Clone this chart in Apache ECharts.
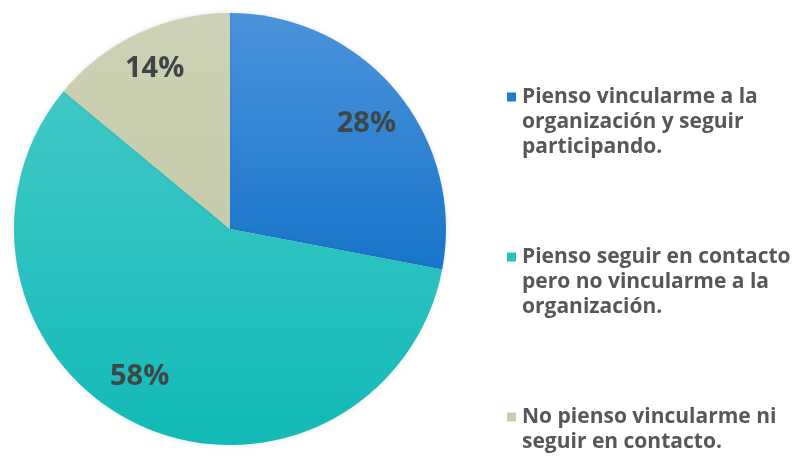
<!DOCTYPE html>
<html>
<head>
<meta charset="utf-8">
<script src="https://cdn.jsdelivr.net/npm/echarts@6/dist/echarts.min.js"></script>
<style>
  html, body { margin: 0; padding: 0; background: #ffffff; }
  #chart { width: 809px; height: 456px; }
</style>
</head>
<body>
<div id="chart"></div>
<script>
// Survey answers and their shares (%)
const categories = [
  'Pienso vincularme a la organización y seguir participando.',
  'Pienso seguir en contacto pero no vincularme a la organización.',
  'No pienso vincularme ni seguir en contacto.'
];
const legendLines = [
  ['Pienso vincularme a la', 'organización y seguir', 'participando.'],
  ['Pienso seguir en contacto', 'pero no vincularme a la', 'organización.'],
  ['No pienso vincularme ni', 'seguir en contacto.']
];
const values = [28, 58, 14];

const topColors = ['#4b93da', '#40c8c8', '#cdd2b6'];
const bottomColors = ['#1875cb', '#12bab6', '#c6cbab'];
const legendColors = ['#1f7ad0', '#26c2c0', '#c9cfae'];
// small nudges for the percentage labels
const labelOffsets = [[0, 8], [-15, -12], [0, 0]];

const LINE_H = 25;
// vertical centre of the first text line of each legend entry
const legendFirstLine = [97, 257, 417];

const chart = echarts.init(document.getElementById('chart'), null, { renderer: 'canvas' });

const pieData = categories.map((name, i) => ({
  name,
  value: values[i],
  itemStyle: {
    color: new echarts.graphic.LinearGradient(0, 0, 0, 1, [
      { offset: 0, color: topColors[i] },
      { offset: 1, color: bottomColors[i] }
    ])
  }
}));

// The legend marker is centred on the text block, so blank lines are
// prepended to keep the marker beside the first line of each entry.
const legends = categories.map((name, i) => {
  const lines = legendLines[i];
  const pad = lines.length - 1;
  const blank = new Array(pad).fill('');
  const total = pad + lines.length;
  return {
    data: [{ name, icon: 'rect', itemStyle: { color: legendColors[i] } }],
    left: 507,
    top: legendFirstLine[i] - (pad + 0.5) * LINE_H,
    padding: 0,
    orient: 'vertical',
    itemWidth: 9,
    itemHeight: 9,
    selectedMode: false,
    formatter: () => blank.concat(lines).join('\n'),
    textStyle: {
      fontFamily: 'Open Sans',
      fontWeight: 700,
      fontSize: 21,
      lineHeight: LINE_H,
      color: '#575757',
      padding: [0, 0, 0, 1]
    }
  };
});

chart.setOption({
  animation: false,
  legend: legends,
  series: [
    {
      type: 'pie',
      center: [230, 229],
      radius: [0, 216],
      startAngle: 90,
      clockwise: true,
      silent: true,
      label: { show: false },
      labelLine: { show: false },
      itemStyle: { borderWidth: 0, shadowBlur: 4, shadowColor: 'rgba(0,0,0,0.12)' },
      data: pieData
    },
    {
      // transparent ring used only to place the percentage labels
      type: 'pie',
      center: [230, 229],
      radius: [132, 216],
      startAngle: 90,
      clockwise: true,
      silent: true,
      legendHoverLink: false,
      itemStyle: { color: 'rgba(0,0,0,0)' },
      label: {
        show: true,
        position: 'inside',
        formatter: '{c}%',
        fontFamily: 'Open Sans',
        fontWeight: 700,
        fontSize: 29,
        color: '#3f4646'
      },
      labelLine: { show: false },
      data: categories.map((name, i) => ({
        name: name + ' ',
        value: values[i],
        label: { offset: labelOffsets[i] }
      }))
    }
  ]
});
</script>
</body>
</html>
